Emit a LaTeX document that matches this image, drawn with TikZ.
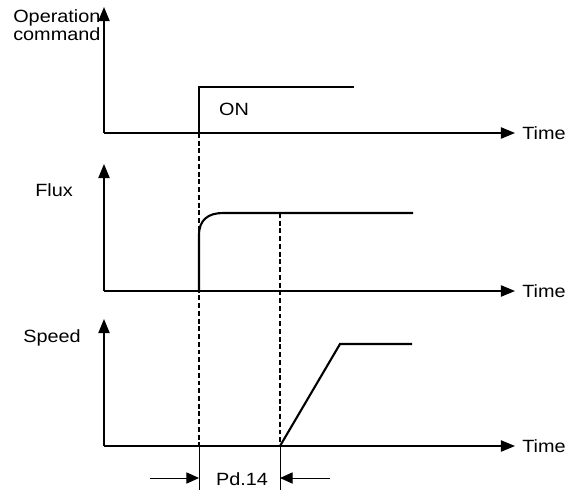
\documentclass[tikz,border=0pt]{standalone}
\usepackage{fontspec}
\newfontfamily\plotfont[FakeStretch=1.12]{Liberation Sans}
\usetikzlibrary{arrows.meta}

\begin{document}
\begin{tikzpicture}[x=0.025cm, y=-0.025cm,
  axis/.style={line width=1pt, -{Triangle[length=10pt, width=8pt]}},
  signal/.style={line width=1.5pt},
  guide/.style={line width=1.3pt, dash pattern=on 3.5pt off 2pt},
  dimline/.style={line width=0.7pt},
  dimarrow/.style={line width=0.7pt, -{Triangle[length=9pt, width=8pt]}},
  lbl/.style={font=\plotfont\fontsize{12.6}{10.8}\selectfont, inner sep=0pt}]
  \useasboundingbox (0,0) rectangle (569,493);
  \coordinate (o1) at (104,133);
  \coordinate (o2) at (104,291);
  \coordinate (o3) at (104,446);
  \coordinate (run) at (199,133);
  \coordinate (ready) at (280,446);
  \draw[axis] (o1) -- (104,7);
  \draw[axis] (o1) -- (515,133);
  \draw[axis] (o2) -- (104,164);
  \draw[axis] (o2) -- (515,291);
  \draw[axis] (o3) -- (104,319);
  \draw[axis] (o3) -- (515,446);
  \node[lbl, align=left, anchor=north west] (cmd) at (13,9) {Operation\\command};
  \node[lbl, anchor=west] (time1) at (522,133) {Time};
  \node[lbl, anchor=west] (time2) at (522,291) {Time};
  \node[lbl, anchor=west] (time3) at (522,446) {Time};
  \node[lbl] (flux) at (54,190) {Flux};
  \node[lbl] (speed) at (52,338) {Speed};
  \node[lbl] (on) at (234,109) {ON};
  \draw[signal] (run) -- (199,87) -- (354,87);
  \draw[signal] (199,291) -- (199,235) .. controls (199,220) and (208,213) .. (223,213) -- (413,213);
  \draw[signal] (ready) -- (340,344) -- (412,344);
  \draw[guide] (run) -- (199,446);
  \draw[guide] (280,213) -- (ready);
  \coordinate (d1) at (199,490);
  \coordinate (d2) at (280,490);
  \draw[dimline] (199,446) -- (d1);
  \draw[dimline] (ready) -- (d2);
  \node[lbl] (pd) at (242,479) {Pd.14};
  \draw[dimarrow] (150,478) -- (199,478);
  \draw[dimarrow] (330,478) -- (280,478);
\end{tikzpicture}
\end{document}
